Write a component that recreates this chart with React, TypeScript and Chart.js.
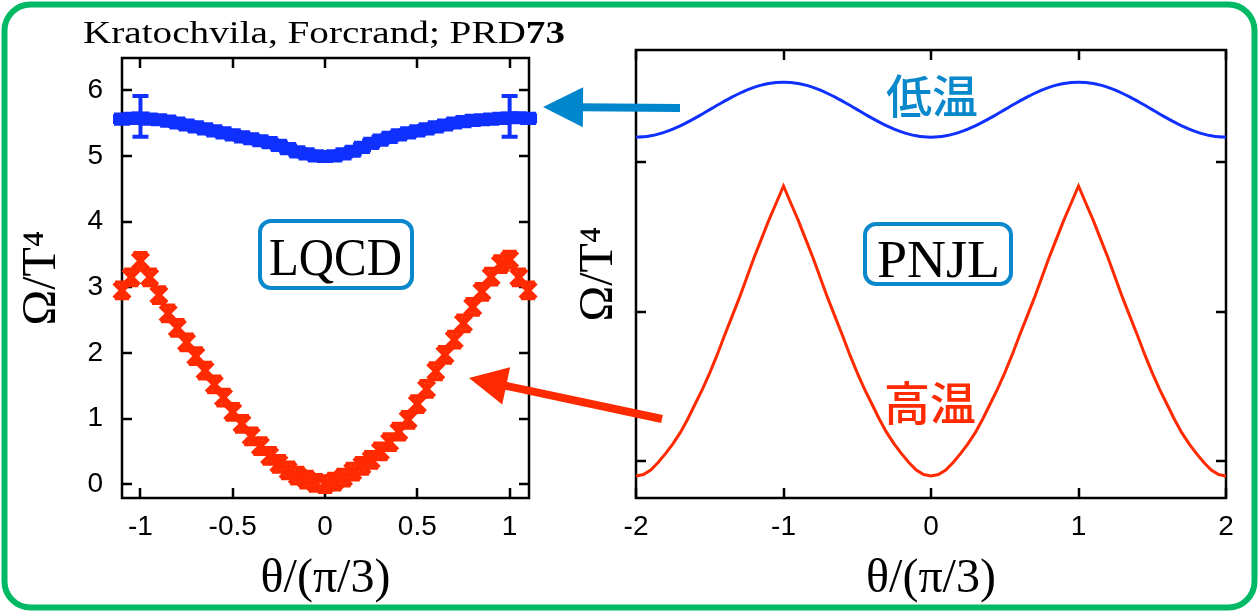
import React, { useEffect, useRef } from "react";
import { Chart, registerables } from "chart.js";
Chart.register(...registerables);

// ---------- LQCD (left panel) ----------
const thetaLQCD = [-1.1, -1.05, -1, -0.95, -0.9, -0.85, -0.8, -0.75, -0.7, -0.65, -0.6, -0.55, -0.5, -0.45, -0.4, -0.35, -0.3, -0.25, -0.2, -0.15, -0.1, -0.05, 0, 0.05, 0.1, 0.15, 0.2, 0.25, 0.3, 0.35, 0.4, 0.45, 0.5, 0.55, 0.6, 0.65, 0.7, 0.75, 0.8, 0.85, 0.9, 0.95, 1, 1.05, 1.1];
const omegaHighLQCD = [2.95, 3.15, 3.4, 3.15, 2.88, 2.6, 2.38, 2.16, 1.95, 1.73, 1.52, 1.32, 1.1, 0.92, 0.73, 0.58, 0.43, 0.31, 0.21, 0.13, 0.07, 0.02, 0.0, 0.04, 0.1, 0.19, 0.28, 0.37, 0.5, 0.64, 0.8, 0.98, 1.22, 1.45, 1.72, 1.97, 2.2, 2.45, 2.7, 2.93, 3.16, 3.35, 3.42, 3.15, 2.95];
const errHighLQCD = [0.12, 0.12, 0.12, 0.12, 0.12, 0.12, 0.12, 0.12, 0.12, 0.12, 0.12, 0.12, 0.12, 0.12, 0.12, 0.12, 0.12, 0.12, 0.12, 0.12, 0.12, 0.12, 0.12, 0.12, 0.12, 0.12, 0.12, 0.12, 0.12, 0.12, 0.12, 0.12, 0.12, 0.12, 0.12, 0.12, 0.12, 0.12, 0.12, 0.12, 0.12, 0.12, 0.12, 0.12, 0.12];
const omegaLowLQCD = [5.56, 5.57, 5.6, 5.56, 5.55, 5.53, 5.5, 5.47, 5.44, 5.41, 5.38, 5.35, 5.32, 5.29, 5.26, 5.23, 5.2, 5.16, 5.11, 5.06, 5.03, 5.0, 4.99, 5.0, 5.03, 5.07, 5.13, 5.19, 5.24, 5.28, 5.32, 5.35, 5.38, 5.41, 5.44, 5.47, 5.5, 5.52, 5.54, 5.55, 5.56, 5.57, 5.6, 5.58, 5.57];
const errLowLQCD = [0.07, 0.07, 0.31, 0.07, 0.07, 0.07, 0.07, 0.07, 0.07, 0.07, 0.07, 0.07, 0.07, 0.07, 0.07, 0.07, 0.07, 0.07, 0.07, 0.07, 0.07, 0.07, 0.07, 0.07, 0.07, 0.07, 0.07, 0.07, 0.07, 0.07, 0.07, 0.07, 0.07, 0.07, 0.07, 0.07, 0.07, 0.07, 0.07, 0.07, 0.07, 0.07, 0.31, 0.07, 0.07];
const xTicksLQCD = [-1, -0.5, 0, 0.5, 1];
const yTicksLQCD = [0, 1, 2, 3, 4, 5, 6];

// ---------- PNJL (right panel) ----------
const thetaPNJL = [-2, -1.95, -1.9, -1.85, -1.8, -1.75, -1.7, -1.65, -1.6, -1.55, -1.5, -1.45, -1.4, -1.35, -1.3, -1.25, -1.2, -1.15, -1.1, -1.05, -1, -0.95, -0.9, -0.85, -0.8, -0.75, -0.7, -0.65, -0.6, -0.55, -0.5, -0.45, -0.4, -0.35, -0.3, -0.25, -0.2, -0.15, -0.1, -0.05, 0, 0.05, 0.1, 0.15, 0.2, 0.25, 0.3, 0.35, 0.4, 0.45, 0.5, 0.55, 0.6, 0.65, 0.7, 0.75, 0.8, 0.85, 0.9, 0.95, 1, 1.05, 1.1, 1.15, 1.2, 1.25, 1.3, 1.35, 1.4, 1.45, 1.5, 1.55, 1.6, 1.65, 1.7, 1.75, 1.8, 1.85, 1.9, 1.95, 2];
const omegaHighPNJL = [
  -0.1, -0.09, -0.06, -0.01, 0.05, 0.115, 0.19, 0.28, 0.38, 0.48, 0.59, 0.71, 0.84, 0.965, 1.09, 1.225, 1.36, 1.485, 1.61, 1.725, 1.84,
  1.725, 1.61, 1.485, 1.36, 1.225, 1.09, 0.965, 0.84, 0.71, 0.59, 0.48, 0.38, 0.28, 0.19, 0.115, 0.05, -0.01, -0.06, -0.09, -0.1,
  -0.09, -0.06, -0.01, 0.05, 0.115, 0.19, 0.28, 0.38, 0.48, 0.59, 0.71, 0.84, 0.965, 1.09, 1.225, 1.36, 1.485, 1.61, 1.725, 1.84,
  1.725, 1.61, 1.485, 1.36, 1.225, 1.09, 0.965, 0.84, 0.71, 0.59, 0.48, 0.38, 0.28, 0.19, 0.115, 0.05, -0.01, -0.06, -0.09, -0.1,
];
const omegaLowPNJL = [
  2.167, 2.169, 2.176, 2.187, 2.202, 2.221, 2.243, 2.267, 2.294, 2.322, 2.351, 2.38, 2.408, 2.435, 2.459, 2.481, 2.5, 2.515, 2.526, 2.533, 2.535,
  2.533, 2.526, 2.515, 2.5, 2.481, 2.459, 2.435, 2.408, 2.38, 2.351, 2.322, 2.294, 2.267, 2.243, 2.221, 2.202, 2.187, 2.176, 2.169, 2.167,
  2.169, 2.176, 2.187, 2.202, 2.221, 2.243, 2.267, 2.294, 2.322, 2.351, 2.38, 2.408, 2.435, 2.459, 2.481, 2.5, 2.515, 2.526, 2.533, 2.535,
  2.533, 2.526, 2.515, 2.5, 2.481, 2.459, 2.435, 2.408, 2.38, 2.351, 2.322, 2.294, 2.267, 2.243, 2.221, 2.202, 2.187, 2.176, 2.169, 2.167,
];
const xTicksPNJL = [-2, -1, 0, 1, 2];
const yTicksPNJL = [0, 1, 2];

const RED = "#ff2a00";
const BLUE = "#1030ff";
const ACCENT = "#0a88cc";
const GREEN = "#00b964";

const framePlugin = {
  id: "gnuplotFrame",
  beforeDatasetsDraw(chart: any) {
    const { ctx, chartArea: a, scales } = chart;
    const L = 10;
    ctx.save();
    ctx.strokeStyle = "#000";
    ctx.lineWidth = 2.5;
    ctx.strokeRect(a.left, a.top, a.right - a.left, a.bottom - a.top);
    ctx.beginPath();
    scales.x.ticks.forEach((t: any) => {
      const px = Math.round(scales.x.getPixelForValue(t.value));
      ctx.moveTo(px, a.bottom);
      ctx.lineTo(px, a.bottom - L);
      ctx.moveTo(px, a.top);
      ctx.lineTo(px, a.top + L);
    });
    scales.y.ticks.forEach((t: any) => {
      const py = Math.round(scales.y.getPixelForValue(t.value));
      ctx.moveTo(a.left, py);
      ctx.lineTo(a.left + L, py);
      ctx.moveTo(a.right, py);
      ctx.lineTo(a.right - L, py);
    });
    ctx.stroke();
    // error bars
    chart.data.datasets.forEach((ds: any) => {
      if (!ds.errorBars) return;
      ctx.strokeStyle = ds.borderColor;
      ctx.lineWidth = ds.errWidth;
      ctx.beginPath();
      ds.data.forEach((p: any, j: number) => {
        const e = ds.errorBars[j];
        const x = scales.x.getPixelForValue(p.x);
        const y1 = scales.y.getPixelForValue(p.y - e);
        const y2 = scales.y.getPixelForValue(p.y + e);
        const c = ds.capHalf;
        ctx.moveTo(x, y1);
        ctx.lineTo(x, y2);
        ctx.moveTo(x - c, y1);
        ctx.lineTo(x + c, y1);
        ctx.moveTo(x - c, y2);
        ctx.lineTo(x + c, y2);
      });
      ctx.stroke();
    });
    ctx.restore();
  },
};

const tickFont = { family: "'Liberation Sans', Arial, sans-serif", size: 28 };
const titleFont = { family: "'Liberation Serif', 'Times New Roman', serif", size: 48 };

function leftConfig(): any {
  return {
    type: "scatter",
    data: {
      datasets: [
        {
          label: "LQCD high T",
          data: thetaLQCD.map((x, i) => ({ x, y: omegaHighLQCD[i] })),
          errorBars: errHighLQCD,
          capHalf: 7,
          errWidth: 4,
          pointStyle: "crossRot",
          pointRadius: 11,
          pointBorderWidth: 5,
          borderColor: RED,
          backgroundColor: RED,
          showLine: false,
          clip: false,
        },
        {
          label: "LQCD low T",
          data: thetaLQCD.map((x, i) => ({ x, y: omegaLowLQCD[i] })),
          errorBars: errLowLQCD,
          capHalf: 8,
          errWidth: 4,
          pointStyle: "line",
          pointRadius: 9,
          pointBorderWidth: 10,
          borderColor: BLUE,
          backgroundColor: BLUE,
          showLine: false,
          clip: false,
        },
      ],
    },
    options: {
      responsive: false,
      animation: false,
      layout: { autoPadding: false, padding: { top: 58, right: 11, left: 0, bottom: 0 } },
      plugins: { legend: { display: false }, tooltip: { enabled: false } },
      scales: {
        x: {
          type: "linear",
          min: -1.1,
          max: 1.105,
          grid: { display: false, drawTicks: false },
          border: { display: false },
          ticks: { font: tickFont, color: "#000", padding: 12, maxRotation: 0, autoSkip: false, callback: (v: number) => String(v) },
          afterBuildTicks: (s: any) => { s.ticks = xTicksLQCD.map((v) => ({ value: v })); },
          afterFit: (s: any) => { s.height = 114; s.paddingLeft = 0; s.paddingRight = 0; },
          title: { display: true, text: "θ/(π/3)", font: titleFont, color: "#000", padding: { top: 0, bottom: 4 } },
        },
        y: {
          type: "linear",
          min: -0.21,
          max: 6.49,
          grid: { display: false, drawTicks: false },
          border: { display: false },
          ticks: { font: tickFont, color: "#000", padding: 19, autoSkip: false, callback: (v: number) => String(v) },
          afterBuildTicks: (s: any) => { s.ticks = yTicksLQCD.map((v) => ({ value: v })); },
          afterFit: (s: any) => { s.width = 122; s.paddingTop = 0; s.paddingBottom = 0; },
          title: { display: true, text: "Ω/T⁴", font: titleFont, color: "#000", padding: { top: 14, bottom: 0 } },
        },
      },
    },
    plugins: [framePlugin],
  };
}

function rightConfig(): any {
  return {
    type: "scatter",
    data: {
      datasets: [
        {
          label: "PNJL high T",
          data: thetaPNJL.map((x, i) => ({ x, y: omegaHighPNJL[i] })),
          borderColor: RED,
          backgroundColor: RED,
          borderWidth: 3,
          pointRadius: 0,
          showLine: true,
          tension: 0,
        },
        {
          label: "PNJL low T",
          data: thetaPNJL.map((x, i) => ({ x, y: omegaLowPNJL[i] })),
          borderColor: BLUE,
          backgroundColor: BLUE,
          borderWidth: 3,
          pointRadius: 0,
          showLine: true,
          tension: 0.3,
        },
      ],
    },
    options: {
      responsive: false,
      animation: false,
      layout: { autoPadding: false, padding: { top: 50, right: 33, left: 0, bottom: 0 } },
      plugins: { legend: { display: false }, tooltip: { enabled: false } },
      scales: {
        x: {
          type: "linear",
          min: -2,
          max: 2,
          grid: { display: false, drawTicks: false },
          border: { display: false },
          ticks: { font: tickFont, color: "#000", padding: 12, maxRotation: 0, autoSkip: false, callback: (v: number) => String(v) },
          afterBuildTicks: (s: any) => { s.ticks = xTicksPNJL.map((v) => ({ value: v })); },
          afterFit: (s: any) => { s.height = 114; s.paddingLeft = 0; s.paddingRight = 0; },
          title: { display: true, text: "θ/(π/3)", font: titleFont, color: "#000", padding: { top: 0, bottom: 4 } },
        },
        y: {
          type: "linear",
          min: -0.247,
          max: 2.75,
          grid: { display: false, drawTicks: false },
          border: { display: false },
          ticks: { display: false },
          afterBuildTicks: (s: any) => { s.ticks = yTicksPNJL.map((v) => ({ value: v })); },
          afterFit: (s: any) => { s.width = 96; s.paddingTop = 0; s.paddingBottom = 0; },
          title: { display: true, text: "Ω/T⁴", font: titleFont, color: "#000", padding: { top: 31, bottom: 0 } },
        },
      },
    },
    plugins: [framePlugin],
  };
}

function Arrow({ x1, y1, x2, y2, color, head, half, width }: any) {
  const dx = x2 - x1, dy = y2 - y1;
  const len = Math.hypot(dx, dy);
  const ux = dx / len, uy = dy / len;
  const bx = x2 - ux * head, by = y2 - uy * head;
  const nx = -uy, ny = ux;
  const pts = `${x2},${y2} ${bx + nx * half},${by + ny * half} ${bx - nx * half},${by - ny * half}`;
  return (
    <g>
      <line x1={x1} y1={y1} x2={bx + ux * 2} y2={by + uy * 2} stroke={color} strokeWidth={width} />
      <polygon points={pts} fill={color} />
    </g>
  );
}

export default function App() {
  const leftRef = useRef<HTMLCanvasElement>(null);
  const rightRef = useRef<HTMLCanvasElement>(null);
  useEffect(() => {
    const c1 = new Chart(leftRef.current as HTMLCanvasElement, leftConfig());
    const c2 = new Chart(rightRef.current as HTMLCanvasElement, rightConfig());
    return () => {
      c1.destroy();
      c2.destroy();
    };
  }, []);
  const serif = "'Liberation Serif', 'Times New Roman', serif";
  const cjk = "'Noto Sans CJK JP', 'Noto Sans CJK SC', sans-serif";
  return (
    <div style={{ position: "absolute", left: 0, top: 0, width: 1259, height: 612, background: "#fff", overflow: "hidden" }}>
      <canvas ref={leftRef} width={540} height={612} style={{ position: "absolute", left: 0, top: 0 }} />
      <canvas ref={rightRef} width={719} height={612} style={{ position: "absolute", left: 540, top: 0 }} />
      <svg width={1259} height={612} style={{ position: "absolute", left: 0, top: 0, pointerEvents: "none" }}>
        <rect x={4.5} y={4.5} width={1250} height={603} rx={26} ry={26} fill="none" stroke={GREEN} strokeWidth={6} />
        <text x={83} y={43} fontFamily={serif} fontSize={31} fill="#000" textLength={482} lengthAdjust="spacingAndGlyphs">
          Kratochvila, Forcrand; PRD<tspan fontWeight="bold">73</tspan>
        </text>
        <rect x={260} y={221} width={152} height={67} rx={11} ry={11} fill="#fff" stroke={ACCENT} strokeWidth={4} />
        <text x={269} y={275} fontFamily={serif} fontSize={52} fill="#000" textLength={133} lengthAdjust="spacingAndGlyphs">LQCD</text>
        <rect x={865} y={224} width={146} height={60} rx={11} ry={11} fill="#fff" stroke={ACCENT} strokeWidth={4} />
        <text x={877} y={277} fontFamily={serif} fontSize={52} fill="#000" textLength={123} lengthAdjust="spacingAndGlyphs">PNJL</text>
        <text x={932} y={93} fontFamily={cjk} fontSize={46} fontWeight={500} fill={ACCENT} textAnchor="middle" dominantBaseline="central">低温</text>
        <text x={930} y={400} fontFamily={cjk} fontSize={46} fontWeight={500} fill={RED} textAnchor="middle" dominantBaseline="central">高温</text>
        <Arrow x1={680} y1={108} x2={543} y2={107} color="#0086cc" head={40} half={20} width={8} />
        <Arrow x1={662} y1={419} x2={469} y2={378} color={RED} head={38} half={19} width={8} />
      </svg>
    </div>
  );
}
